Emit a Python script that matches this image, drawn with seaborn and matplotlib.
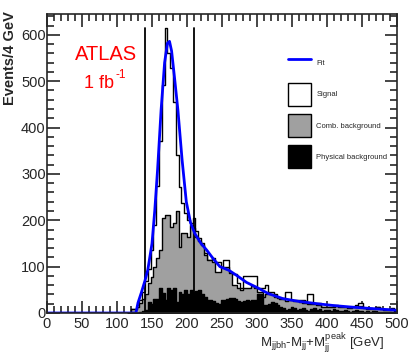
import numpy as np
import pandas as pd
import matplotlib
matplotlib.use("Agg")
import matplotlib.pyplot as plt
from matplotlib.lines import Line2D
from matplotlib.patches import Patch
from matplotlib.ticker import MultipleLocator
import seaborn as sns

# bin edges: 4 GeV bins, first non-empty region starts at 116 GeV
bin_lo = np.arange(116, 500, 4)

# stacked histogram tops (events / 4 GeV)
# total = physical + combinatorial + signal
total_top = [0, 8, 8, 18, 28, 45, 70, 95, 136, 190, 275, 370, 491, 615, 561, 529,
             456, 340, 272, 237, 215, 200, 195, 205, 176, 161, 150, 130, 114, 115,
             118, 110, 110, 100, 114, 114, 87, 84, 84, 65, 55, 80, 80, 80, 80, 80,
             55, 55, 55, 60, 46, 46, 42, 32, 32, 32, 46, 46, 28, 28, 28, 28,
             28, 26, 41, 41, 21, 21, 21, 14, 14, 14, 14, 17, 17, 14, 14, 14,
             14, 12, 14, 17, 21, 21, 10, 10, 10, 9, 14, 14, 8, 8, 8, 6, 10, 6]
# physical + combinatorial background
bkg_top = [0, 8, 8, 14, 22, 30, 42, 64, 78, 100, 118, 135, 205, 212, 212, 186,
           195, 219, 143, 172, 172, 165, 190, 183, 165, 155, 146, 125, 114, 115,
           110, 89, 88, 100, 100, 100, 87, 60, 60, 55, 50, 55, 55, 55, 58, 55,
           45, 45, 35, 40, 40, 42, 35, 32, 30, 30, 25, 28, 28, 25, 26, 24,
           22, 22, 20, 20, 20, 18, 18, 14, 12, 12, 14, 14, 15, 12, 12, 12,
           10, 10, 12, 14, 16, 16, 10, 8, 9, 8, 10, 12, 8, 6, 7, 6, 8, 5]
# physical background only
phys_bkg = [0, 0, 0, 0, 2, 4, 6, 24, 20, 30, 30, 54, 43, 29, 54, 50,
            54, 24, 45, 40, 50, 40, 50, 45, 48, 50, 42, 35, 29, 29,
            25, 22, 20, 29, 27, 30, 32, 33, 30, 25, 24, 25, 27, 26, 28, 27,
            40, 42, 18, 18, 20, 24, 22, 18, 12, 10, 7, 8, 12, 10, 6, 9,
            11, 7, 5, 8, 10, 6, 8, 5, 7, 6, 4, 8, 6, 5, 4, 6,
            5, 3, 5, 6, 4, 5, 3, 4, 3, 5, 4, 3, 2, 3, 2, 3, 2, 3]

# fit curve
fit_mass = [0, 127, 130, 135, 140, 144, 150, 154, 158, 163, 168, 172, 175, 178,
            182, 187, 193, 199, 205, 211, 220, 228, 237, 247, 260, 272, 285,
            300, 316, 337, 360, 386, 410, 433, 460, 480, 500]
fit_val = [0, 0, 22, 45, 70, 93, 150, 222, 310, 438, 540, 582, 586, 565,
           510, 438, 330, 240, 195, 172, 150, 136, 118, 100, 92, 80, 66,
           55, 42, 31, 25, 20, 16, 13, 10, 8, 6]

window = [140, 210]

df = pd.DataFrame({"mass": bin_lo + 2, "total": total_top,
                   "bkg": bkg_top, "phys": phys_bkg})

sns.set_style("ticks")
plt.rcParams["font.family"] = ["Liberation Sans", "DejaVu Sans"]
plt.rcParams["mathtext.default"] = "regular"

fig = plt.figure(figsize=(4.1, 3.57), dpi=100)
ax = fig.add_axes([47 / 410, 44 / 357, 350 / 410, 299 / 357])

hist_kws = dict(binwidth=4, binrange=(116, 500), element="step", fill=True,
                edgecolor="black", linewidth=1, alpha=1, ax=ax)
sns.histplot(data=df, x="mass", weights="total", color="white", **hist_kws)
sns.histplot(data=df, x="mass", weights="bkg", color="#a0a0a0", **hist_kws)
sns.histplot(data=df, x="mass", weights="phys", color="black", **hist_kws)

for w in window:
    ax.plot([w, w], [0, 615], color="black", lw=1.3)

sns.lineplot(x=fit_mass, y=fit_val, color="blue", lw=2, ax=ax)

ax.set_xlim(0, 500)
ax.set_ylim(0, 645)
ax.xaxis.set_major_locator(MultipleLocator(50))
ax.xaxis.set_minor_locator(MultipleLocator(10))
ax.yaxis.set_major_locator(MultipleLocator(100))
ax.yaxis.set_minor_locator(MultipleLocator(20))
ax.tick_params(which="both", direction="in", top=True, right=True, labelsize=10.5, width=1.2)
ax.tick_params(which="major", length=9)
ax.tick_params(which="minor", length=5)
ax.tick_params(axis="y", pad=1)
ax.tick_params(axis="x", pad=3)
for s in ax.spines.values():
    s.set_linewidth(1.2)

ax.set_xlabel("")
ax.set_ylabel("")
fig.text(10 / 410, 1 - 58 / 357, "Events/4 GeV", rotation=90, fontsize=10.5,
         fontweight="bold", ha="center", va="center")
fig.text(322 / 410, 1 - 343 / 357, r"$M_{jjbh}$-$M_{jj}$+$M_{jj}^{peak}$ [GeV]",
         fontsize=9.5, ha="center", va="center")

fig.text(106 / 410, 1 - 55 / 357, "ATLAS", color="red",
         fontsize=14.5, ha="center", va="center")
fig.text(99 / 410, 1 - 83 / 357, "1 fb",
         color="red", fontsize=13, ha="center", va="center")
fig.text(115 / 410, 1 - 75 / 357, "-1",
         color="red", fontsize=8.5, ha="left", va="center")

handles = [Line2D([], [], color="blue", lw=2),
           Patch(facecolor="white", edgecolor="black", lw=1),
           Patch(facecolor="#a0a0a0", edgecolor="black", lw=1),
           Patch(facecolor="black", edgecolor="black", lw=1)]
labels = ["Fit", "Signal", "Comb. background", "Physical background"]
ax.legend(handles, labels, loc="upper left", bbox_to_anchor=(288 / 410, 1 - 52 / 357),
          bbox_transform=fig.transFigure, frameon=False, fontsize=5.5,
          handlelength=3.0, handleheight=4.2, labelspacing=1.1,
          handletextpad=0.7, borderpad=0, borderaxespad=0)

fig.savefig("out.png", dpi=100)
